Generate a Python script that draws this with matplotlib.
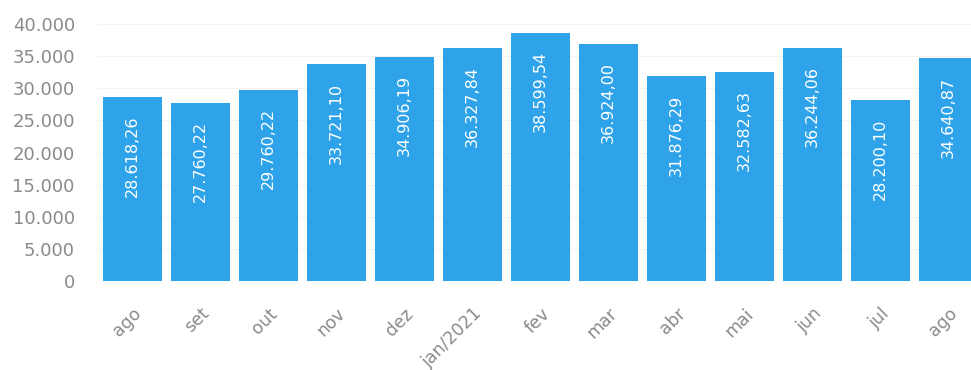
import matplotlib
matplotlib.use('Agg')
import matplotlib.pyplot as plt
from matplotlib.ticker import FuncFormatter

# monthly values
months = ['ago', 'set', 'out', 'nov', 'dez', 'jan/2021', 'fev', 'mar',
          'abr', 'mai', 'jun', 'jul', 'ago']
values = [28618.26, 27760.22, 29760.22, 33721.10, 34906.19, 36327.84,
          38599.54, 36924.00, 31876.29, 32582.63, 36244.06, 28200.10, 34640.87]
yticks = [0, 5000, 10000, 15000, 20000, 25000, 30000, 35000, 40000]


def br_fmt(v, dec=2):
    s = '{:,.{d}f}'.format(v, d=dec)
    return s.replace(',', 'X').replace('.', ',').replace('X', '.')


plt.rcParams['font.family'] = ['DejaVu Sans']

fig = plt.figure(figsize=(9.71, 3.70), dpi=100)
ax = fig.add_axes([0.1014, 0.2405, 0.8986, 0.6946])

barColor = '#2ea3ea'
x = list(range(len(values)))
ax.bar(x, values, width=0.87, color=barColor, zorder=2)

for xi, v in zip(x, values):
    ax.text(xi, v - 2850, br_fmt(v), rotation=90, ha='center', va='top',
            color='white', fontsize=11.5, zorder=3)

ax.set_xlim(-0.5, 12.33)
ax.set_ylim(0, 40000)
ax.set_yticks(yticks)
ax.yaxis.set_major_formatter(FuncFormatter(lambda v, p: br_fmt(v, 0)))
ax.set_xticks(x)
ax.set_xticklabels(months, rotation=45, ha='right', rotation_mode='anchor')
ax.tick_params(axis='both', length=0, colors='#8a8a8a')
ax.tick_params(axis='x', pad=17, labelsize=12.5)
ax.tick_params(axis='y', pad=17, labelsize=13)
ax.grid(axis='y', color='#f3f3f3', linewidth=0.8, zorder=0)
for s in ax.spines.values():
    s.set_visible(False)

fig.savefig('out.png', dpi=100)
